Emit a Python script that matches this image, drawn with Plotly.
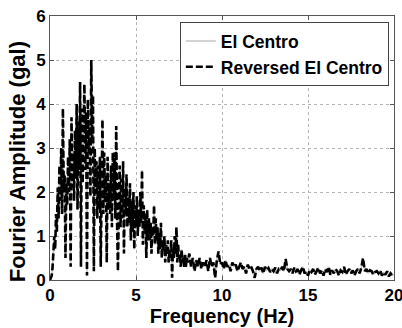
import numpy as np
import plotly.graph_objects as go

# Frequency bins (Hz): fine spacing below 8 Hz, coarser above
freq_low = np.round(np.arange(0.0, 8.0, 0.05), 2)
freq_high = np.round(np.arange(8.0, 20.01, 0.1), 2)

# Fourier amplitude (gal), 0 - 7.95 Hz
amp_low = [
    0.0, 0.05, 0.1, 0.3, 0.6, 1.0, 0.7, 1.5, 1.1, 2.1, 1.4, 2.6, 1.8, 3.0, 1.5, 3.9, 2.0, 2.4, 0.5, 2.2,
    1.7, 2.8, 2.0, 3.2, 0.3, 3.7, 2.1, 2.9, 1.8, 3.4, 2.3, 4.0, 1.6, 3.6, 2.5, 4.5, 0.3, 3.9, 2.2, 3.3,
    4.45, 2.5, 3.8, 0.1, 4.1, 2.9, 3.5, 1.9, 5.0, 3.2, 4.2, 0.2, 3.0, 2.1, 2.7, 1.4, 2.6, 1.6, 2.8, 0.3,
    2.3, 3.65, 1.5, 2.9, 1.8, 2.4, 0.4, 2.8, 1.6, 2.2, 1.5, 2.6, 1.2, 2.9, 1.8, 2.9, 1.4, 3.5, 1.3, 0.2,
    1.6, 2.6, 1.2, 2.3, 1.4, 2.7, 0.6, 2.1, 1.5, 2.4, 1.2, 1.9, 1.3, 2.2, 0.9, 1.8, 1.1, 2.0, 0.7, 1.7,
    1.2, 1.9, 1.0, 1.6, 1.2, 2.0, 1.3, 2.5, 0.8, 1.7, 1.1, 1.5, 0.5, 1.6, 0.9, 1.4, 0.9, 1.3, 0.6, 1.2,
    1.0, 1.7, 0.8, 1.4, 0.9, 1.2, 0.6, 1.1, 0.7, 1.3, 0.5, 0.9, 0.7, 1.0, 0.4, 0.8, 0.6, 0.9, 0.4, 0.7,
    0.6, 0.9, 0.05, 0.7, 0.5, 1.0, 0.6, 1.2, 0.4, 0.8, 0.5, 0.6, 0.3, 0.7, 0.4, 0.5, 0.3, 0.6, 0.3, 0.5,
]

# Fourier amplitude (gal), 8 - 20 Hz
amp_high = [
    0.4, 0.6, 0.3, 0.5, 0.2, 0.45, 0.3, 0.5, 0.25, 0.4,
    0.3, 0.45, 0.2, 0.5, 0.3, 0.4, 0.05, 0.45, 0.65, 0.35,
    0.4, 0.25, 0.45, 0.3, 0.35, 0.2, 0.4, 0.3, 0.35, 0.2,
    0.3, 0.4, 0.25, 0.3, 0.15, 0.35, 0.25, 0.3, 0.2, 0.05,
    0.25, 0.3, 0.2, 0.28, 0.15, 0.3, 0.22, 0.27, 0.18, 0.25,
    0.2, 0.28, 0.15, 0.25, 0.22, 0.3, 0.2, 0.48, 0.25, 0.2,
    0.25, 0.15, 0.28, 0.2, 0.25, 0.12, 0.22, 0.3, 0.15, 0.2,
    0.1, 0.22, 0.18, 0.25, 0.12, 0.2, 0.28, 0.15, 0.22, 0.1,
    0.25, 0.18, 0.3, 0.12, 0.22, 0.15, 0.25, 0.2, 0.1, 0.22,
    0.18, 0.3, 0.12, 0.2, 0.25, 0.15, 0.22, 0.1, 0.2, 0.25,
    0.15, 0.28, 0.5, 0.2, 0.25, 0.15, 0.22, 0.2, 0.12, 0.18,
    0.2, 0.15, 0.22, 0.1, 0.18, 0.12, 0.2, 0.08, 0.15, 0.1,
    0.12,
]

freq = np.concatenate([freq_low, freq_high])
# Time reversal leaves the Fourier amplitude spectrum unchanged
amp_original = np.array(amp_low + amp_high)
amp_reversed = amp_original.copy()

x_ticks = [0, 5, 10, 15, 20]
y_ticks = [0, 1, 2, 3, 4, 5, 6]

font_family = "Liberation Sans, Arial, sans-serif"

fig = go.Figure()
fig.add_trace(go.Scatter(
    x=freq, y=amp_original, mode="lines", name="El Centro",
    line=dict(color="#c4c4c4", width=1.6),
))
fig.add_trace(go.Scatter(
    x=freq, y=amp_reversed, mode="lines", name="Reversed El Centro",
    line=dict(color="black", width=2.6, dash="7px,3px"),
))

axis_common = dict(
    showline=True, linecolor="#555555", linewidth=1, mirror="ticks",
    ticks="inside", ticklen=4, tickcolor="#555555",
    showgrid=True, gridcolor="#b5b5b5", gridwidth=1, griddash="dot",
    zeroline=False, ticklabeloverflow="allow",
    tickfont=dict(family=font_family, size=17, color="black", weight="bold"),
)

fig.update_xaxes(
    range=[0, 20], tickvals=x_ticks,
    title=dict(text="Frequency (Hz)", standoff=2,
               font=dict(family=font_family, size=20, color="black", weight="bold")),
    **axis_common,
)
fig.update_yaxes(range=[0, 6], tickvals=y_ticks, **axis_common)

# y-axis label, sitting slightly below the axis midpoint
fig.add_annotation(
    text="Fourier Amplitude (gal)", textangle=-90,
    xref="paper", yref="paper", x=-0.096, y=0.45,
    xanchor="center", yanchor="middle", showarrow=False,
    font=dict(family=font_family, size=22, color="black", weight="bold"),
)

fig.update_layout(
    width=402, height=328,
    margin=dict(l=50, r=8, t=16, b=48, autoexpand=False),
    paper_bgcolor="white", plot_bgcolor="white",
    legend=dict(
        x=0.985, y=0.977, xanchor="right", yanchor="top",
        bgcolor="white", bordercolor="#444444", borderwidth=1,
        font=dict(family=font_family, size=17.5, color="black", weight="bold"),
        tracegroupgap=0, itemwidth=30,
    ),
)

fig.write_html("out.html")
